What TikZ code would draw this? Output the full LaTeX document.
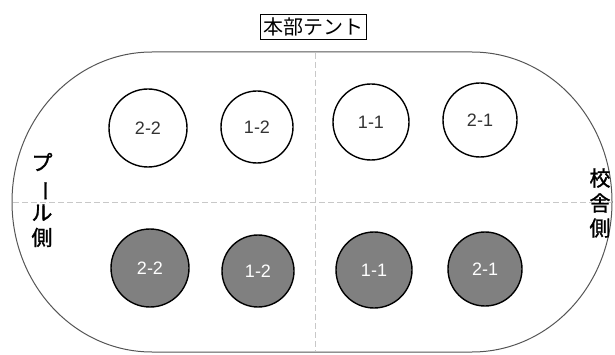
\documentclass[tikz,border=0pt]{standalone}
\usepackage{fontspec}
\setmainfont{Liberation Sans}
\newfontfamily\jp{Noto Sans CJK JP}
\newfontfamily\jpb[FakeBold=1.2]{Noto Sans CJK JP}
\usepackage{graphicx}
\definecolor{ovalgray}{HTML}{555555}
\definecolor{dashgray}{HTML}{C8C8C8}
\definecolor{fillgray}{HTML}{808080}
\definecolor{textgray}{HTML}{333333}
\begin{document}
\begin{tikzpicture}[x=1pt,y=-1pt,
  table/.style={circle,draw=black,line width=1.4pt,inner sep=0pt,text=textgray,font=\fontsize{18}{20}\selectfont},
  emptytable/.style={table,fill=white},
  filledtable/.style={table,fill=fillgray,text=white},
  divider/.style={draw=dashgray,line width=1pt,dash pattern=on 6pt off 3pt},
  sidelabel/.style={font=\jpb\fontsize{21}{25}\selectfont,align=center,inner sep=0pt},
]
\useasboundingbox (0,0) rectangle (615,355);
% oval
\draw[ovalgray,line width=1pt] (152,52) -- (472,52) arc[start angle=90,end angle=-90,x radius=140,y radius=-150] -- (152,352) arc[start angle=270,end angle=90,x radius=140,y radius=-150] -- cycle;
% dashed dividers
\coordinate (vtop) at (315,53);
\coordinate (vbot) at (315,351);
\coordinate (hl) at (13,203);
\coordinate (hr) at (611,203);
\draw[divider] (vtop) -- (vbot);
\draw[divider] (hl) -- (hr);
% title
\node[draw=black,line width=0.8pt,font=\jp\fontsize{20}{22}\selectfont,inner xsep=3pt,inner ysep=3pt] (title) at (313,27) {本部テント};
% side labels
\node[sidelabel] (pool) at (42,200) {プ\\\rotatebox[origin=c]{-90}{ー}\\ル\\側};
\node[sidelabel] (school) at (600,203) {校\\舎\\側};
% top row
\node[emptytable,minimum size=78pt] (t22) at (148,128) {2-2};
\node[emptytable,minimum size=72pt] (t12) at (257,127) {1-2};
\node[emptytable,minimum size=76pt] (t11) at (371,122) {1-1};
\node[emptytable,minimum size=74pt] (t21) at (480,120) {2-1};
% bottom row
\node[filledtable,minimum size=78pt] (b22) at (150,268) {2-2};
\node[filledtable,minimum size=72pt] (b12) at (258,271) {1-2};
\node[filledtable,minimum size=76pt] (b11) at (374,270) {1-1};
\node[filledtable,minimum size=74pt] (b21) at (485,269) {2-1};
\end{tikzpicture}
\end{document}
